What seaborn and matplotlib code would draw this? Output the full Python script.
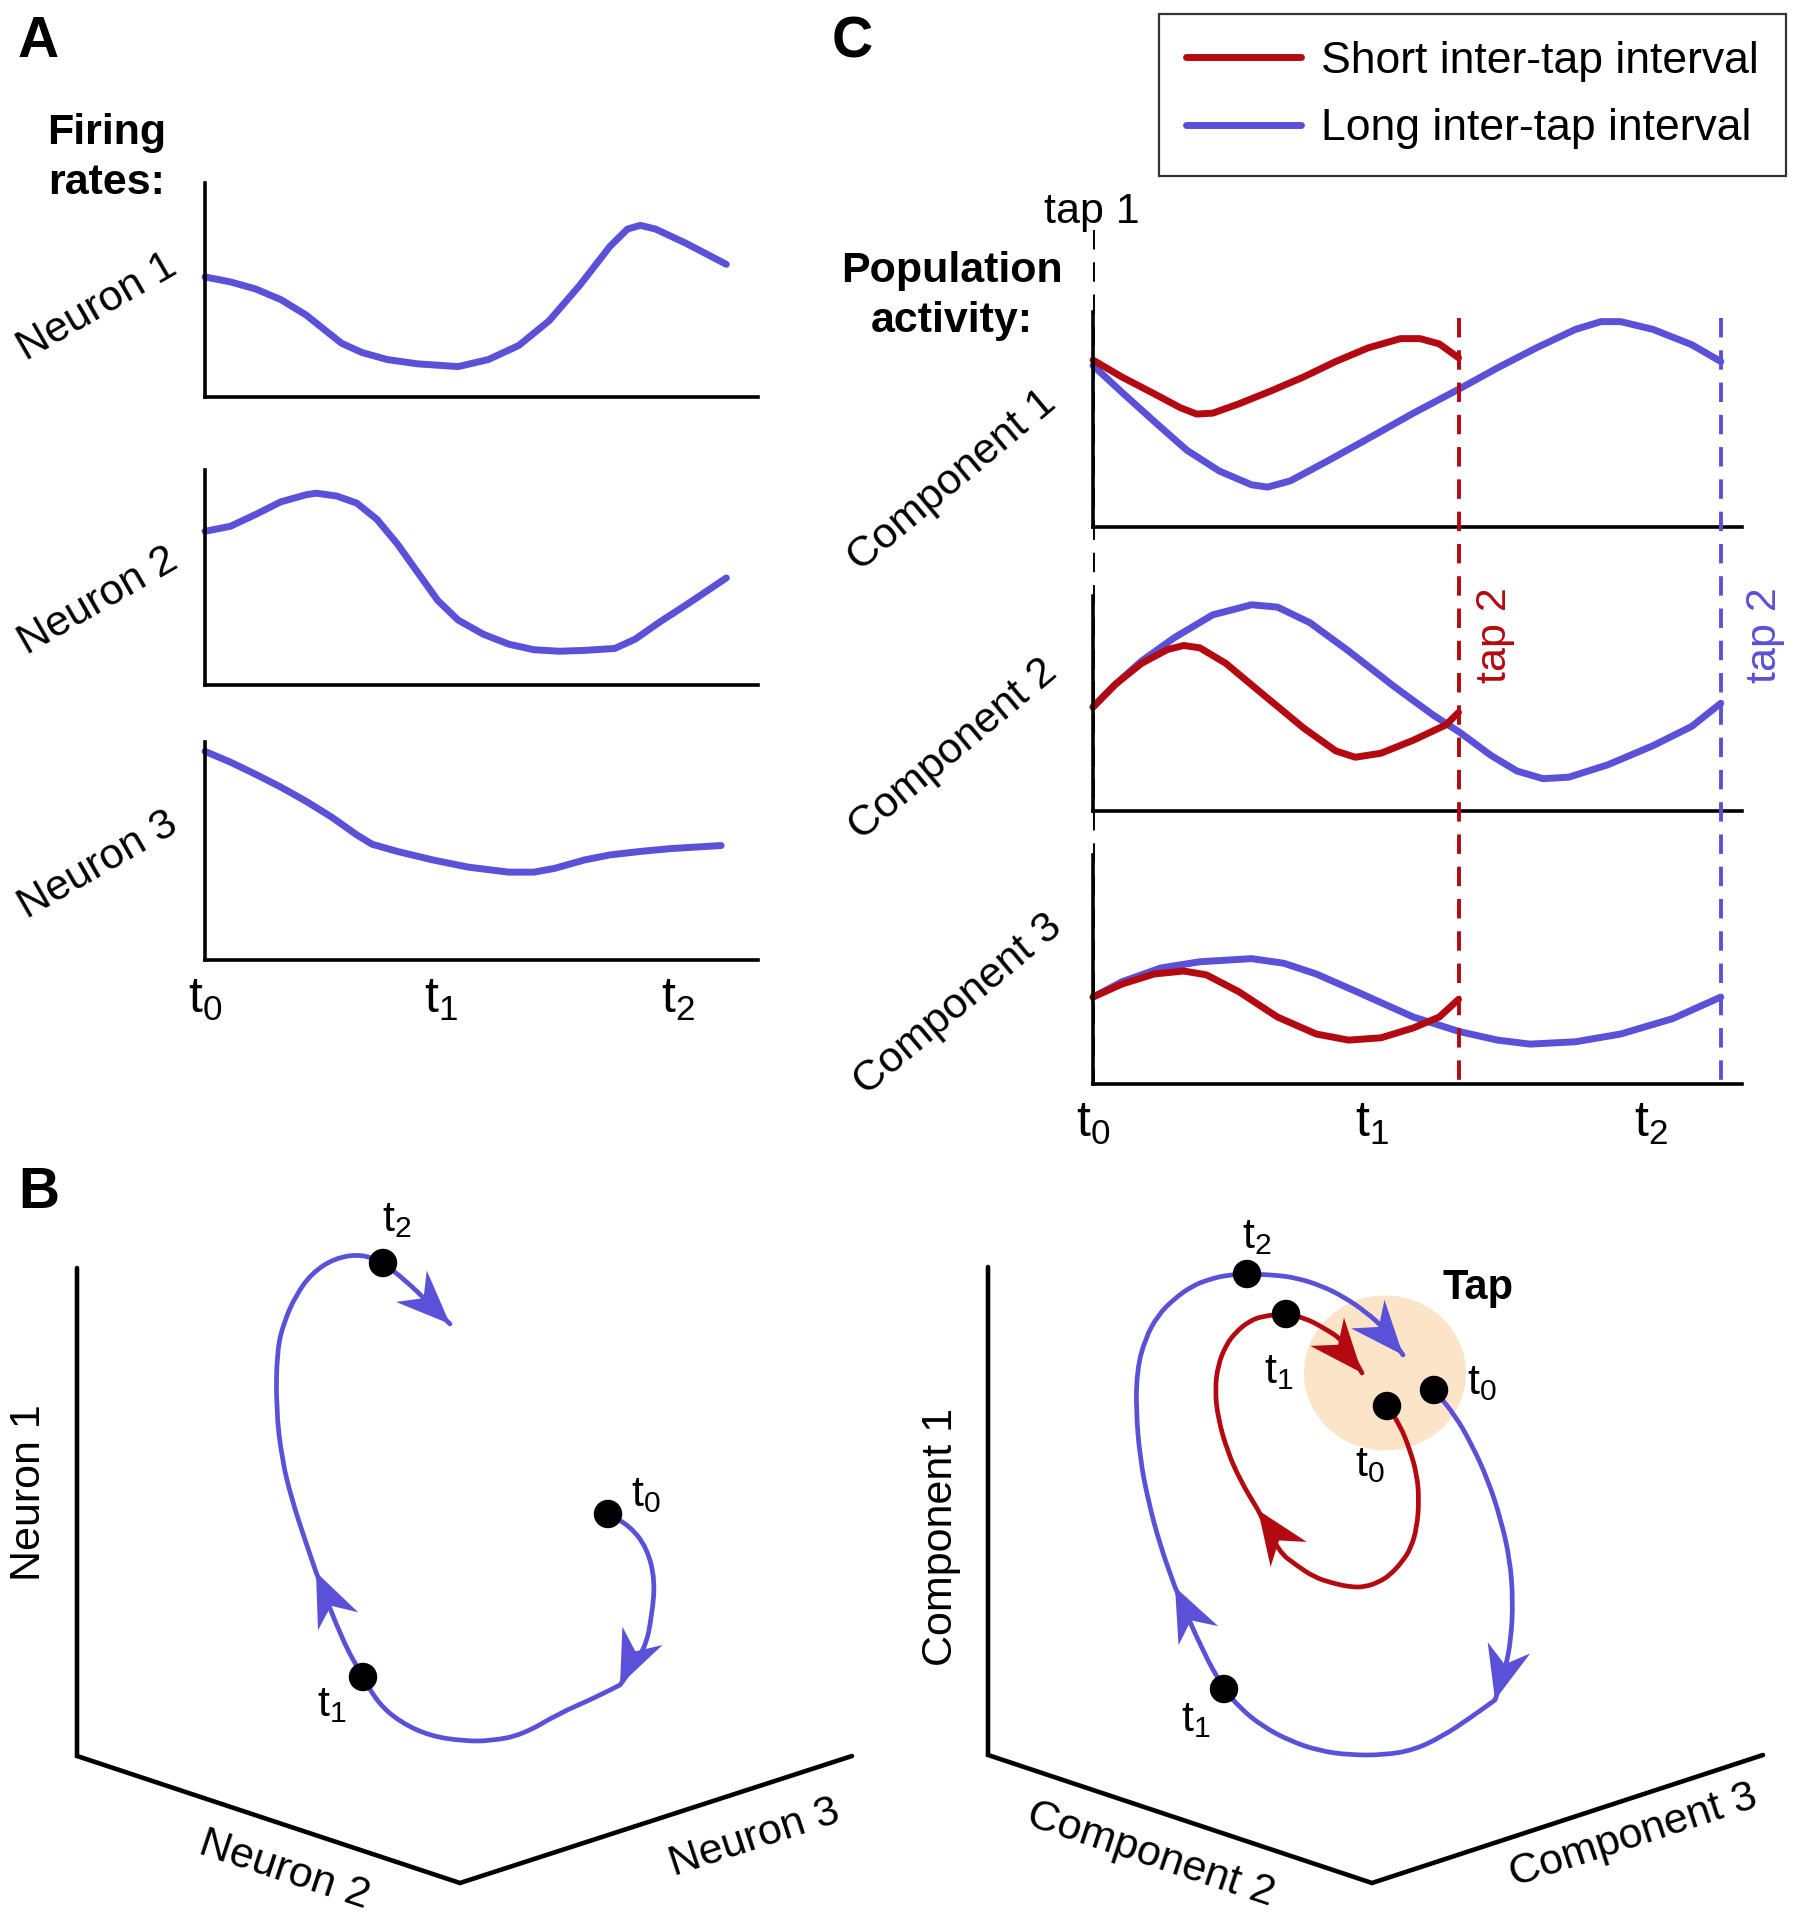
import numpy as np
import matplotlib
matplotlib.use("Agg")
import matplotlib.pyplot as plt
import seaborn as sns
from matplotlib.patches import Polygon, Ellipse, PathPatch
from matplotlib.path import Path
from matplotlib.lines import Line2D

W, H = 1805, 1920

BLUE = "#5B50D8"
RED = "#B20A10"
PEACH = "#FBE4C8"

#--------------------------Panel A data (t0=0, t1=1, t2=2)--------------------------
n1_t = [0, 0.107, 0.214, 0.321, 0.428, 0.514, 0.578, 0.664, 0.771, 0.899, 1.071, 1.199, 1.328,
        1.456, 1.585, 1.713, 1.788, 1.842, 1.906, 2.034, 2.206]
n1_y = [0.561, 0.538, 0.505, 0.455, 0.383, 0.307, 0.251, 0.208, 0.175, 0.155, 0.142, 0.175, 0.241,
        0.356, 0.521, 0.703, 0.785, 0.802, 0.785, 0.719, 0.620]

n2_t = [0, 0.107, 0.214, 0.321, 0.428, 0.471, 0.557, 0.642, 0.728, 0.814, 0.899, 0.985, 1.071,
        1.178, 1.285, 1.392, 1.499, 1.606, 1.734, 1.820, 1.927, 2.056, 2.206]
n2_y = [0.715, 0.738, 0.793, 0.852, 0.885, 0.892, 0.879, 0.846, 0.770, 0.656, 0.525, 0.393, 0.302,
        0.236, 0.190, 0.164, 0.157, 0.161, 0.170, 0.213, 0.295, 0.387, 0.498]

n3_t = [0, 0.107, 0.214, 0.321, 0.428, 0.535, 0.642, 0.707, 0.814, 0.964, 1.114, 1.285, 1.392,
        1.478, 1.606, 1.713, 1.842, 1.970, 2.184]
n3_y = [0.957, 0.908, 0.852, 0.793, 0.728, 0.656, 0.574, 0.531, 0.498, 0.459, 0.426, 0.403, 0.403,
        0.420, 0.459, 0.482, 0.498, 0.511, 0.525]

neuron_t = [n1_t, n2_t, n3_t]
neuron_y = [n1_y, n2_y, n3_y]
neuron_names = ["Neuron 1", "Neuron 2", "Neuron 3"]
time_ticks = [0, 1, 2]
time_labels = [r"t$_\mathregular{0}$", r"t$_\mathregular{1}$", r"t$_\mathregular{2}$"]

#--------------------------Panel C data--------------------------
tap_short = 1.31
tap_long = 2.25

c1_long_t = [0, 0.104, 0.220, 0.336, 0.452, 0.568, 0.626, 0.708, 0.847, 0.986, 1.148, 1.315, 1.450,
             1.589, 1.729, 1.821, 1.891, 2.007, 2.146, 2.25]
c1_long_y = [0.769, 0.641, 0.502, 0.366, 0.267, 0.201, 0.190, 0.220, 0.319, 0.421, 0.542, 0.659, 0.758,
             0.853, 0.941, 0.978, 0.978, 0.941, 0.868, 0.788]
c1_short_t = [0, 0.104, 0.220, 0.313, 0.371, 0.429, 0.522, 0.638, 0.754, 0.870, 0.986, 1.102, 1.172,
              1.241, 1.31]
c1_short_y = [0.795, 0.714, 0.634, 0.568, 0.538, 0.542, 0.586, 0.648, 0.714, 0.788, 0.853, 0.897, 0.897,
              0.872, 0.806]

c2_long_t = [0, 0.081, 0.174, 0.290, 0.429, 0.568, 0.661, 0.777, 0.916, 1.079, 1.218, 1.315, 1.427,
             1.520, 1.613, 1.705, 1.845, 2.007, 2.146, 2.25]
c2_long_y = [0.495, 0.604, 0.714, 0.824, 0.934, 0.982, 0.971, 0.897, 0.762, 0.593, 0.458, 0.374, 0.264,
             0.190, 0.154, 0.161, 0.220, 0.311, 0.403, 0.513]
c2_short_t = [0, 0.081, 0.174, 0.267, 0.325, 0.383, 0.476, 0.615, 0.754, 0.870, 0.940, 1.032, 1.148,
              1.265, 1.31]
c2_short_y = [0.495, 0.604, 0.703, 0.769, 0.788, 0.777, 0.703, 0.549, 0.396, 0.286, 0.256, 0.275, 0.337,
              0.410, 0.469]

c3_long_t = [0, 0.104, 0.244, 0.383, 0.568, 0.684, 0.800, 0.963, 1.148, 1.315, 1.450, 1.566, 1.729,
             1.891, 2.077, 2.25]
c3_long_y = [0.414, 0.487, 0.553, 0.582, 0.597, 0.575, 0.524, 0.429, 0.319, 0.249, 0.209, 0.190, 0.201,
             0.238, 0.311, 0.414]
c3_short_t = [0, 0.104, 0.220, 0.325, 0.406, 0.522, 0.661, 0.800, 0.916, 1.032, 1.148, 1.241, 1.31]
c3_short_y = [0.414, 0.476, 0.524, 0.538, 0.520, 0.440, 0.319, 0.238, 0.209, 0.220, 0.267, 0.319, 0.403]

comp_long = [(c1_long_t, c1_long_y), (c2_long_t, c2_long_y), (c3_long_t, c3_long_y)]
comp_short = [(c1_short_t, c1_short_y), (c2_short_t, c2_short_y), (c3_short_t, c3_short_y)]
comp_names = ["Component 1", "Component 2", "Component 3"]
legend_labels = ["Short inter-tap interval", "Long inter-tap interval"]

#--------------------------Panel B data (projected state space, px)--------------------------
bl_axis_x = [77, 77, 460, 852]
bl_axis_y = [1268, 1756, 1883, 1756]
br_axis_x = [988, 988, 1372, 1763]
br_axis_y = [1267, 1755, 1883, 1755]

bl_x = [608, 630, 647, 655, 652, 645, 620, 590, 560, 522, 490, 464, 430, 400, 378, 363,
        343, 316, 305, 292, 282, 276, 277, 284, 296, 312, 335, 362, 383, 405, 428, 450]
bl_y = [1514, 1526, 1548, 1580, 1615, 1650, 1685, 1700, 1713, 1735, 1741, 1741, 1736, 1722, 1703, 1677,
        1642, 1572, 1540, 1500, 1460, 1408, 1350, 1322, 1295, 1273, 1258, 1254, 1263, 1280, 1302, 1324]
bl_dots = [0, 15, 28]
bl_arrows = [6, 17, 31]

br_blue_x = [1434, 1455, 1472, 1488, 1501, 1510, 1513, 1511, 1505, 1495, 1470, 1443, 1414, 1384, 1350,
             1320, 1290, 1262, 1240, 1224, 1203, 1175, 1160, 1148, 1140, 1136, 1137, 1145, 1158, 1174,
             1192, 1210, 1228, 1247, 1275, 1297, 1322, 1344, 1366, 1385, 1403]
br_blue_y = [1390, 1415, 1445, 1480, 1520, 1560, 1600, 1640, 1670, 1700, 1718, 1736, 1750, 1755, 1755,
             1751, 1741, 1726, 1708, 1689, 1652, 1587, 1545, 1500, 1458, 1410, 1370, 1339, 1315, 1299,
             1286, 1279, 1275, 1274, 1275, 1278, 1286, 1297, 1312, 1329, 1355]
br_blue_dots = [0, 19, 33]
br_blue_arrows = [9, 21, 40]

br_red_x = [1387, 1400, 1410, 1417, 1419, 1417, 1411, 1402, 1390, 1379, 1365, 1350, 1332, 1314, 1296,
            1279, 1258, 1240, 1227, 1218, 1215, 1218, 1226, 1236, 1248, 1262, 1286, 1305, 1324, 1344, 1362]
br_red_y = [1406, 1425, 1450, 1475, 1500, 1527, 1548, 1562, 1575, 1582, 1587, 1587, 1583, 1577, 1565,
            1552, 1510, 1480, 1450, 1418, 1390, 1365, 1345, 1332, 1322, 1316, 1314, 1318, 1328, 1341, 1373]
br_red_dots = [0, 26]
br_red_arrows = [16, 30]

tap_zone_center = (1385, 1373)
tap_zone_size = (162, 155)

#--------------------------Figure--------------------------
sns.set_style("white")
plt.rcParams["font.family"] = ["Liberation Sans", "DejaVu Sans"]
plt.rcParams["text.color"] = "black"
plt.rcParams["xtick.color"] = "black"
plt.rcParams["axes.labelcolor"] = "black"
plt.rcParams["mathtext.fontset"] = "custom"
plt.rcParams["mathtext.rm"] = "Liberation Sans"
plt.rcParams["mathtext.it"] = "Liberation Sans:italic"
plt.rcParams["mathtext.bf"] = "Liberation Sans:bold"

fig = plt.figure(figsize=(W / 100, H / 100), dpi=100)


def px_axes(left, top, right, bottom):
    ax = fig.add_axes([left / W, 1 - bottom / H, (right - left) / W, (bottom - top) / H])
    ax.set_facecolor("none")
    return ax


bg = px_axes(0, 0, W, H)
bg.set_xlim(0, W)
bg.set_ylim(H, 0)
bg.axis("off")

FS = 31

#--------------------------Panel A--------------------------
a_rows = [(183, 397), (470, 685), (742, 960)]
a_label_pos = [(97, 307), (98, 601), (98, 865)]

for i, (top, bottom) in enumerate(a_rows):
    ax = px_axes(205, top, 758, bottom)
    sns.lineplot(x=neuron_t[i], y=neuron_y[i], ax=ax, color=BLUE, lw=5,
                 estimator=None, sort=False, clip_on=False)
    ax.set_xlim(0, 2.34)
    ax.set_ylim(0, 1)
    sns.despine(ax=ax)
    for s in ["left", "bottom"]:
        ax.spines[s].set_linewidth(2.6)
        ax.spines[s].set_color("black")
    ax.set_yticks([])
    if i == 2:
        ax.set_xticks(time_ticks)
        ax.set_xticklabels(time_labels, fontsize=36)
        ax.tick_params(axis="x", length=0, pad=12)
    else:
        ax.set_xticks([])
    ax.set_xlabel("")
    ax.set_ylabel("")
    bg.text(*a_label_pos[i], neuron_names[i], rotation=30, ha="center", va="center", fontsize=FS)

bg.text(38, 42, "A", fontsize=41, fontweight="bold", ha="center", va="center")
bg.text(107, 158, "Firing\nrates:", fontsize=31, fontweight="bold", ha="center", va="center",
        linespacing=1.3)

#--------------------------Panel C--------------------------
c_rows = [(312, 527), (596, 811), (855, 1084)]
c_label_pos = [(952, 481), (953, 750), (958, 1005)]
unit_h = 210.0

for i, (top, bottom) in enumerate(c_rows):
    ax = px_axes(1093, top, 1742, bottom)
    lt, ly = comp_long[i]
    st, sy = comp_short[i]
    sns.lineplot(x=lt, y=ly, ax=ax, color=BLUE, lw=5, estimator=None, sort=False, clip_on=False)
    sns.lineplot(x=st, y=sy, ax=ax, color=RED, lw=5, estimator=None, sort=False, clip_on=False)
    ax.set_xlim(0, 2.326)
    ax.set_ylim(0, (bottom - top) / unit_h)
    sns.despine(ax=ax)
    for s in ["left", "bottom"]:
        ax.spines[s].set_linewidth(2.6)
        ax.spines[s].set_color("black")
    ax.set_yticks([])
    if i == 2:
        ax.set_xticks(time_ticks)
        ax.set_xticklabels(time_labels, fontsize=36)
        ax.tick_params(axis="x", length=0, pad=12)
    else:
        ax.set_xticks([])
    ax.set_xlabel("")
    ax.set_ylabel("")
    bg.text(*c_label_pos[i], comp_names[i], rotation=40, ha="center", va="center", fontsize=FS)

# tap markers across the three component panels
tapax = px_axes(1093, 230, 1742, 1084)
tapax.set_xlim(0, 2.326)
tapax.set_ylim(1084, 230)
tapax.axis("off")
tapax.vlines(0, 230, 1084, color="black", lw=2.8, linestyles=(0, (5, 3.3)))
tapax.vlines(tap_short, 318, 1084, color=RED, lw=2.8, linestyles=(0, (5, 3.3)))
tapax.vlines(tap_long, 318, 1084, color=BLUE, lw=2.8, linestyles=(0, (5, 3.3)))
tapax.text(tap_short + 0.13, 635, "tap 2", color=RED, rotation=90, ha="center", va="center", fontsize=FS)
tapax.text(tap_long + 0.16, 635, "tap 2", color=BLUE, rotation=90, ha="center", va="center", fontsize=FS)

bg.text(1092, 212, "tap 1", ha="center", va="center", fontsize=FS)
bg.text(852, 42, "C", fontsize=41, fontweight="bold", ha="center", va="center")
bg.text(952, 296, "Population\nactivity:", fontsize=31, fontweight="bold", ha="center", va="center",
        linespacing=1.3)

handles = [Line2D([], [], color=RED, lw=5), Line2D([], [], color=BLUE, lw=5)]
leg = fig.legend(handles, legend_labels, loc="upper left", bbox_to_anchor=(1159 / W, 1 - 14 / H),
                 frameon=True, fancybox=False, edgecolor="black", fontsize=32,
                 handlelength=2.6, handletextpad=0.45, borderpad=0.6, labelspacing=0.6,
                 borderaxespad=0)
leg.get_frame().set_linewidth(1.6)

#--------------------------Panel B--------------------------


def smooth_path(xs, ys, anchors):
    # quadratic B-spline through the read points; anchors are passed through exactly
    pts = np.column_stack([xs, ys]).astype(float)
    mids = (pts[:-1] + pts[1:]) / 2
    verts = [pts[0], mids[0]]
    codes = [Path.MOVETO, Path.LINETO]
    for k in range(1, len(pts) - 1):
        if k in anchors:
            verts += [pts[k], mids[k]]
            codes += [Path.LINETO, Path.LINETO]
        else:
            verts += [pts[k], mids[k]]
            codes += [Path.CURVE3, Path.CURVE3]
    verts.append(pts[-1])
    codes.append(Path.LINETO)
    return Path(verts, codes)


def arrowhead(ax, xs, ys, i, color, length=54, width=44, notch=17):
    tip = np.array([xs[i], ys[i]], dtype=float)
    prev = np.array([xs[i - 2], ys[i - 2]], dtype=float)
    d = tip - prev
    d = d / np.hypot(*d)
    n = np.array([-d[1], d[0]])
    back = tip - d * length
    pts = [tip, back + n * width / 2, tip - d * (length - notch), back - n * width / 2]
    ax.add_patch(Polygon(pts, closed=True, color=color, lw=0, zorder=4))


bg.add_patch(Ellipse(tap_zone_center, tap_zone_size[0], tap_zone_size[1], color=PEACH, lw=0, zorder=1))

for ax_x, ax_y in [(bl_axis_x, bl_axis_y), (br_axis_x, br_axis_y)]:
    bg.plot(ax_x, ax_y, color="black", lw=3.3, solid_joinstyle="miter", zorder=2)

trajs = [(bl_x, bl_y, bl_dots, bl_arrows, BLUE),
         (br_blue_x, br_blue_y, br_blue_dots, br_blue_arrows, BLUE),
         (br_red_x, br_red_y, br_red_dots, br_red_arrows, RED)]
for xs, ys, dots, arrows, col in trajs:
    bg.add_patch(PathPatch(smooth_path(xs, ys, set(arrows)), facecolor="none", edgecolor=col,
                           lw=3.4, capstyle="round", joinstyle="round", zorder=3))
    for k in arrows:
        arrowhead(bg, xs, ys, k, col)
    sns.scatterplot(x=[xs[k] for k in dots], y=[ys[k] for k in dots], ax=bg, color="black",
                    s=420, edgecolor="none", zorder=5)
bg.set_xlim(0, W)
bg.set_ylim(H, 0)

tl = dict(ha="center", va="center", fontsize=31)
bg.text(397, 1220, r"t$_\mathregular{2}$", **tl)
bg.text(646, 1495, r"t$_\mathregular{0}$", **tl)
bg.text(332, 1705, r"t$_\mathregular{1}$", **tl)
bg.text(1257, 1237, r"t$_\mathregular{2}$", **tl)
bg.text(1279, 1372, r"t$_\mathregular{1}$", **tl)
bg.text(1482, 1383, r"t$_\mathregular{0}$", **tl)
bg.text(1370, 1465, r"t$_\mathregular{0}$", **tl)
bg.text(1196, 1720, r"t$_\mathregular{1}$", **tl)
bg.text(1478, 1288, "Tap", fontsize=30, fontweight="bold", ha="center", va="center")

bg.text(29, 1493, "Neuron 1", rotation=90, ha="center", va="center", fontsize=FS)
bg.text(284, 1870, "Neuron 2", rotation=-18.3, ha="center", va="center", fontsize=FS)
bg.text(755, 1838, "Neuron 3", rotation=18.1, ha="center", va="center", fontsize=FS)
bg.text(941, 1537, "Component 1", rotation=90, ha="center", va="center", fontsize=FS)
bg.text(1151, 1855, "Component 2", rotation=-18.4, ha="center", va="center", fontsize=FS)
bg.text(1633, 1836, "Component 3", rotation=18.1, ha="center", va="center", fontsize=FS)
bg.text(39, 1193, "B", fontsize=41, fontweight="bold", ha="center", va="center")

plt.savefig("out.png", dpi=100)
plt.close()
